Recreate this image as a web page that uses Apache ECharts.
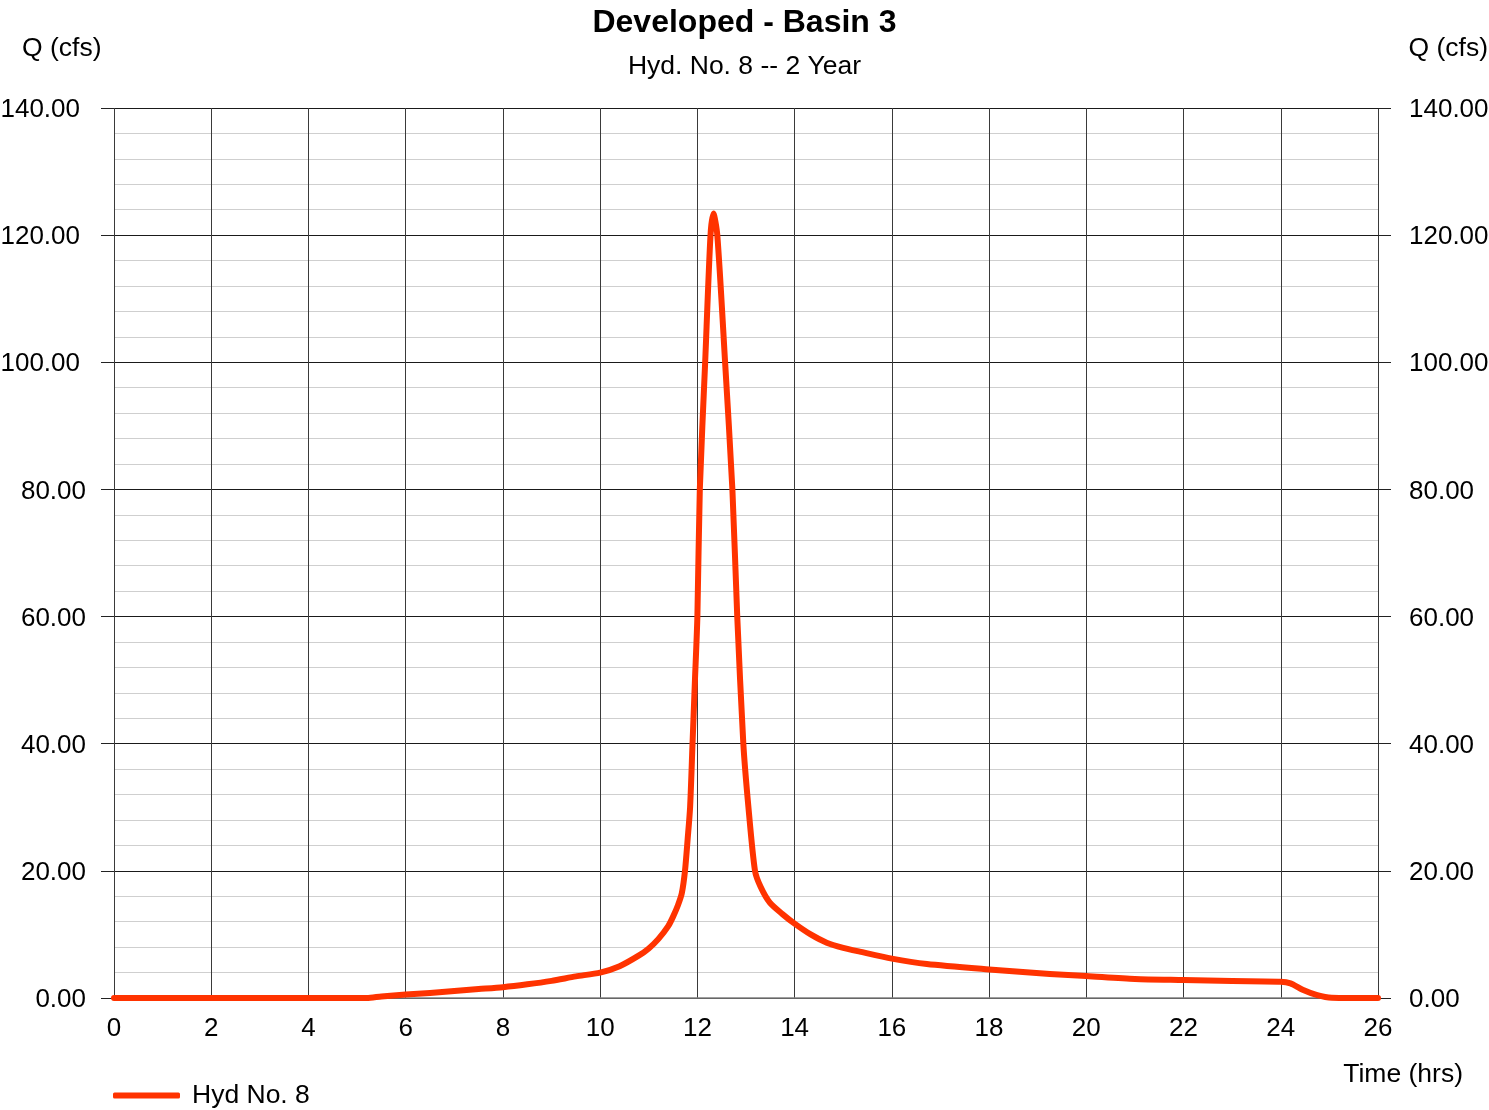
<!DOCTYPE html>
<html>
<head>
<meta charset="utf-8">
<title>Developed - Basin 3</title>
<script src="https://cdn.jsdelivr.net/npm/echarts@6/dist/echarts.min.js"></script>
<style>
  html, body { margin: 0; padding: 0; background: #ffffff; }
  #chart { width: 1489px; height: 1110px; }
</style>
</head>
<body>
<div id="chart"></div>
<script>
// Hydrograph ordinates: time (hrs) and discharge Q (cfs)
const hours = [0, 5.2, 5.5, 6, 6.5, 7, 7.5, 8, 8.5, 9, 9.5, 10, 10.4, 10.8, 11.0, 11.2, 11.4, 11.5, 11.6, 11.68,
  11.745, 11.8, 11.85, 11.9, 11.95, 12.0, 12.05, 12.16, 12.27, 12.33, 12.41, 12.57, 12.72, 12.82, 12.945, 13.05,
  13.185, 13.3, 13.49, 13.75, 14.0, 14.33, 14.66, 15.0, 15.34, 16.0, 16.72, 18.0, 19.25, 20.0, 21.0, 22.0, 23.0,
  24.0, 24.2, 24.45, 24.75, 25.05, 26];
const flow = [0, 0, 0.25, 0.55, 0.8, 1.1, 1.4, 1.7, 2.15, 2.7, 3.4, 4.0, 5.0, 6.7, 7.8, 9.3, 11.3, 12.8, 14.6, 16.5,
  20, 25, 30, 40, 50, 60, 80, 100, 120, 123.4, 120, 100, 80, 60, 40, 30,
  20, 17.5, 15, 13.2, 11.7, 10.0, 8.7, 7.9, 7.3, 6.2, 5.35, 4.5, 3.78, 3.46, 3.0, 2.83, 2.67,
  2.57, 2.3, 1.3, 0.45, 0.05, 0];

// Axis ticks
const timeTicks = [0, 2, 4, 6, 8, 10, 12, 14, 16, 18, 20, 22, 24, 26];
const flowTicks = [0, 20, 40, 60, 80, 100, 120, 140];

const seriesName = 'Hyd No. 8';
const titleText = 'Developed - Basin 3';
const subtitleText = 'Hyd. No. 8 -- 2 Year';
const yAxisTitle = 'Q (cfs)';
const xAxisTitle = 'Time (hrs)';

const FONT = '"Liberation Sans", Arial, sans-serif';
const LINE_COLOR = '#ff3300';

const points = hours.map((t, i) => [t, flow[i]]);

const chart = echarts.init(document.getElementById('chart'), null, { renderer: 'canvas' });

function flowLabel(v) {
  const s = v.toFixed(2);
  return v >= 100 ? '{w|' + s + '}' : s;
}

const yAxisCommon = {
  type: 'value',
  min: flowTicks[0],
  max: flowTicks[flowTicks.length - 1],
  interval: flowTicks[1] - flowTicks[0],
  axisLine: { show: false },
  axisTick: { show: true, length: 13, lineStyle: { color: '#222', width: 1 } },
  axisLabel: {
    color: '#000',
    fontFamily: FONT,
    fontSize: 26,
    padding: [4, 0, 0, 0],
    formatter: flowLabel,
    rich: { w: { fontFamily: FONT, fontSize: 26, color: '#000', padding: [0, 6, 0, 0] } }
  }
};

chart.setOption({
  animation: false,
  backgroundColor: '#ffffff',
  title: [
    {
      text: titleText,
      left: 'center',
      top: 2,
      textStyle: { fontFamily: FONT, fontSize: 32, fontWeight: 'bold', color: '#000' }
    },
    {
      text: subtitleText,
      left: 'center',
      top: 48,
      textStyle: { fontFamily: FONT, fontSize: 26.5, fontWeight: 'normal', color: '#000' }
    }
  ],
  graphic: [
    { type: 'text', left: 22, top: 35, style: { text: yAxisTitle, font: '26.5px ' + FONT, fill: '#000' } },
    { type: 'text', right: 1, top: 35, style: { text: yAxisTitle, font: '26.5px ' + FONT, fill: '#000' } },
    { type: 'text', right: 26, top: 1061, style: { text: xAxisTitle, font: '26.5px ' + FONT, fill: '#000' } }
  ],
  legend: {
    left: 113,
    top: 1082,
    padding: 0,
    icon: 'roundRect',
    itemWidth: 67,
    itemHeight: 6,
    textStyle: { fontFamily: FONT, fontSize: 26.5, color: '#000', padding: [0, 0, 0, 7] },
    data: [seriesName]
  },
  grid: {
    left: 114,
    right: 111,
    top: 108,
    bottom: 112,
    containLabel: false,
    outerBoundsMode: 'none'
  },
  xAxis: {
    type: 'value',
    min: timeTicks[0],
    max: timeTicks[timeTicks.length - 1],
    interval: timeTicks[1] - timeTicks[0],
    axisLine: { show: true, onZero: false, lineStyle: { color: '#808080', width: 1.5 } },
    axisTick: { show: false },
    axisLabel: {
      color: '#000',
      fontFamily: FONT,
      fontSize: 26,
      margin: 18,
      formatter: v => String(v)
    },
    splitLine: { show: true, lineStyle: { color: '#3a3a3a', width: 1 } }
  },
  yAxis: [
    Object.assign({}, yAxisCommon, {
      position: 'left',
      axisLabel: Object.assign({}, yAxisCommon.axisLabel, { margin: 28 }),
      splitLine: { show: true, lineStyle: { color: '#1a1a1a', width: 1 } },
      minorTick: { show: false, splitNumber: 5 },
      minorSplitLine: { show: true, lineStyle: { color: '#cfcfcf', width: 1 } }
    }),
    Object.assign({}, yAxisCommon, {
      position: 'right',
      axisLabel: Object.assign({}, yAxisCommon.axisLabel, { margin: 31, formatter: v => v.toFixed(2) }),
      splitLine: { show: false }
    })
  ],
  series: [
    {
      name: seriesName,
      type: 'line',
      xAxisIndex: 0,
      yAxisIndex: 0,
      data: points,
      showSymbol: false,
      smooth: 0.25,
      color: LINE_COLOR,
      lineStyle: { color: LINE_COLOR, width: 6, cap: 'round', join: 'round' },
      itemStyle: { color: LINE_COLOR },
      z: 5
    }
  ]
});
</script>
</body>
</html>
